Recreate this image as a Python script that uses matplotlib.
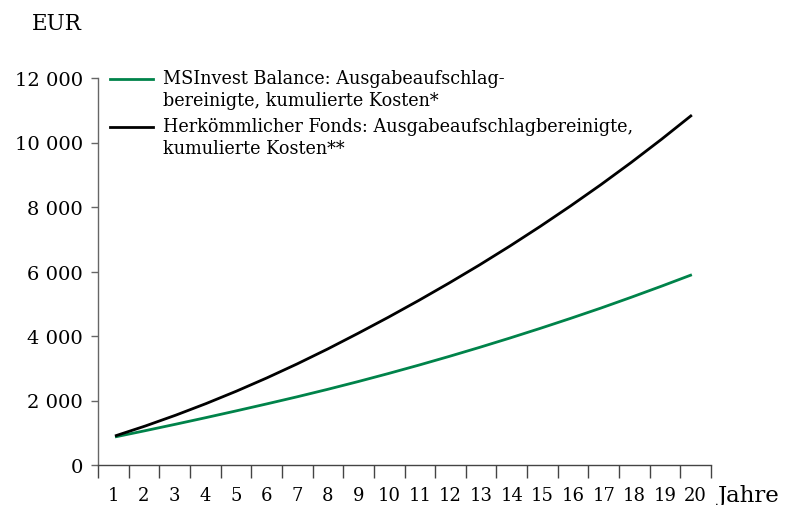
import matplotlib
matplotlib.use("Agg")
import matplotlib.pyplot as plt
import numpy as np
from matplotlib.lines import Line2D

# Jahre 1..20, kumulierte Kosten in EUR
years = list(range(1, 21))
msinvest = [870, 1065, 1265, 1470, 1680, 1895, 2115, 2345, 2585, 2835,
            3095, 3365, 3645, 3935, 4235, 4545, 4865, 5200, 5545, 5900]
fonds = [900, 1210, 1545, 1905, 2290, 2700, 3135, 3595, 4080, 4580,
         5100, 5640, 6200, 6785, 7395, 8030, 8690, 9380, 10100, 10850]
yticks = [0, 2000, 4000, 6000, 8000, 10000, 12000]
ytick_labels = ["0", "2 000", "4 000", "6 000", "8 000", "10 000", "12 000"]
labels = ["MSInvest Balance: Ausgabeaufschlag-\nbereinigte, kumulierte Kosten*",
          "Herkömmlicher Fonds: Ausgabeaufschlagbereinigte,\nkumulierte Kosten**"]

green = "#00834a"
plt.rcParams["font.family"] = ["DejaVu Serif"]

fig = plt.figure(figsize=(7.87, 5.06), dpi=100)
ax = fig.add_axes([98 / 787, 1 - 466 / 506, 613 / 787, 387 / 506])

ax.plot(years, msinvest, color=green, lw=2.0, solid_capstyle="butt")
ax.plot(years, fonds, color="black", lw=2.0, solid_capstyle="butt")

x0, x1 = 0.44, 20.63
ax.set_xlim(x0, x1)
ax.set_ylim(0, 12000)

for s in ["top", "right"]:
    ax.spines[s].set_visible(False)
ax.spines["left"].set_color("#666666")
ax.spines["bottom"].set_color("#444444")
ax.spines["left"].set_linewidth(1.0)
ax.spines["bottom"].set_linewidth(1.0)

ax.set_yticks(yticks)
ax.set_yticklabels(ytick_labels, fontsize=14)
ax.tick_params(axis="y", length=5, pad=6, color="#666666", width=1.0)

# x: Striche an den Grenzen, Beschriftung dazwischen
bounds = np.linspace(x0, x1, 21)
mids = (bounds[:-1] + bounds[1:]) / 2
ax.set_xticks(bounds, minor=True)
ax.set_xticks(mids)
ax.set_xticklabels([str(y) for y in years], fontsize=13)
ax.tick_params(axis="x", which="major", length=0, pad=15)
ax.tick_params(axis="x", which="minor", length=9.5, color="#444444", width=1.0)

fig.text(57 / 787, 1 - 24 / 506, "EUR", fontsize=15.5, ha="center", va="center")
fig.text(718 / 787, 1 - 496 / 506, "Jahre", fontsize=16.5, ha="left", va="center")

# Legende von Hand
for y, col, lab in [(80, green, labels[0]), (128, "black", labels[1])]:
    fig.add_artist(Line2D([110 / 787, 153 / 787], [1 - y / 506, 1 - y / 506],
                          color=col, lw=2.0, transform=fig.transFigure))
    fig.text(163 / 787, 1 - (y - 9.5) / 506, lab, fontsize=12.7, ha="left",
             va="top", linespacing=1.25)

fig.savefig("out.png", dpi=100)
